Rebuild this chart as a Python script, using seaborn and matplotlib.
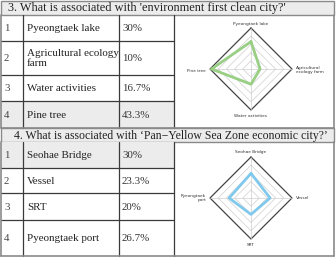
import matplotlib
matplotlib.use("Agg")
import matplotlib.pyplot as plt
import numpy as np
import pandas as pd
import seaborn as sns
from matplotlib.patches import Rectangle

sns.set_style("white")
plt.rcParams['font.family'] = ['Liberation Serif', 'DejaVu Serif']

# ---- data ----
title1 = "3. What is associated with 'environment first clean city?'"
nums1 = ["1", "2", "3", "4"]
cats1 = ["Pyeongtaek lake", "Agricultural ecology\nfarm", "Water activities", "Pine tree"]
vals1 = [30, 10, 16.7, 43.3]
pct1 = ["30%", "10%", "16.7%", "43.3%"]
radar_labels1 = ["Pyeongtaek lake", "Agricultural\necology farm", "Water activities", "Pine tree"]

title2 = "4. What is associated with \u2018Pan\u2212Yellow Sea Zone economic city?\u2019"
nums2 = ["1", "2", "3", "4"]
cats2 = ["Seohae Bridge", "Vessel", "SRT", "Pyeongtaek port"]
vals2 = [30, 23.3, 20, 26.7]
pct2 = ["30%", "23.3%", "20%", "26.7%"]
radar_labels2 = ["Seohae Bridge", "Vessel", "SRT", "Pyeongtaek\nport"]

W, H = 336, 258
fig = plt.figure(figsize=(W / 100, H / 100), dpi=100)
bg = fig.add_axes([0, 0, 1, 1])
bg.set_xlim(0, W)
bg.set_ylim(H, 0)
bg.axis("off")

cols = [1, 23, 119, 174, 334]
line_c = "#3a3a3a"
grey_fill = "#ececec"
fs_lab = 7.9
fs_num = 7.8


def draw_table(y_title, rows_y, title, nums, cats, pcts, shaded_row, title_x, fs_title):
    # title band
    bg.add_patch(Rectangle((1, y_title), 333, rows_y[0] - y_title, facecolor=grey_fill,
                           edgecolor="#8a8a8a", lw=1.0))
    bg.text(title_x, (y_title + rows_y[0]) / 2 + 0.5, title, fontsize=fs_title, va="center",
            ha="left", color="#222222")
    # shaded row
    r = shaded_row
    bg.add_patch(Rectangle((cols[0], rows_y[r]), cols[3] - cols[0], rows_y[r + 1] - rows_y[r],
                           facecolor=grey_fill, edgecolor="none"))
    # horizontal lines (table cells)
    for y in rows_y[1:-1]:
        bg.plot([cols[0], cols[3]], [y, y], color=line_c, lw=0.9)
    # vertical lines
    for x in cols[1:4]:
        bg.plot([x, x], [rows_y[0], rows_y[-1]], color=line_c, lw=0.9)
    # outer borders
    bg.plot([cols[0], cols[0]], [rows_y[0], rows_y[-1]], color="#8a8a8a", lw=1.2)
    bg.plot([cols[4], cols[4]], [rows_y[0], rows_y[-1]], color="#8a8a8a", lw=1.2)
    bg.plot([cols[0], cols[4]], [rows_y[-1], rows_y[-1]], color="#8a8a8a", lw=1.2)
    # text
    for i in range(4):
        yc = (rows_y[i] + rows_y[i + 1]) / 2 + 0.5
        bg.text(4, yc, nums[i], fontsize=fs_num, va="center", ha="left", color="#444444")
        bg.text(27, yc, cats[i], fontsize=fs_lab, va="center", ha="left", color="#222222",
                linespacing=1.1)
        bg.text(122, yc, pcts[i], fontsize=fs_num, va="center", ha="left", color="#333333")


draw_table(1, [15, 41, 75, 101, 128], title1, nums1, cats1, pct1, 3, 8, 8.8)
draw_table(128, [142, 168, 193, 220, 256], title2, nums2, cats2, pct2, 0, 14, 8.5)


def radar(cx, cy, rad, vals, labels, color, rmax, label_pos):
    ax = fig.add_axes([(cx - rad) / W, 1 - (cy + rad) / H, 2 * rad / W, 2 * rad / H],
                      projection="polar")
    ax.set_theta_offset(np.pi / 2)
    ax.set_theta_direction(-1)
    ax.set_ylim(0, rmax)
    ax.grid(False)
    ax.spines["polar"].set_visible(False)
    ax.set_xticks([])
    ax.set_yticks([])
    ax.patch.set_alpha(0)
    th = np.arange(4) * np.pi / 2
    thc = np.append(th, 2 * np.pi)
    levels = np.linspace(rmax / 5, rmax, 5)
    for lv in levels[:-1]:
        ax.plot(thc, [lv] * 5, color="#cfcfcf", lw=0.5)
    ax.plot(thc, [rmax] * 5, color="#444444", lw=0.9, clip_on=False)
    for t in th:
        ax.plot([t, t], [0, rmax], color="#cfcfcf", lw=0.5)
    df = pd.DataFrame({"theta": thc, "value": np.append(vals, vals[0])})
    sns.lineplot(data=df, x="theta", y="value", sort=False, estimator=None, ax=ax,
                 color=color, lw=2.0)
    ax.set_xlabel("")
    ax.set_ylabel("")
    for lab, (x, y, ha) in zip(labels, label_pos):
        bg.text(x, y, lab, fontsize=3.1, ha=ha, va="center", color="#333333",
                family="DejaVu Sans", linespacing=1.0)


radar(251, 69, 41, vals1, radar_labels1, "#98cf84", 45,
      [(251, 24, "center"), (296, 70, "left"), (251, 116, "center"), (206, 71, "right")])
radar(251, 198, 41, vals2, radar_labels2, "#80c8ec", 50,
      [(251, 152, "center"), (296, 198, "left"), (251, 245, "center"), (206, 198, "right")])

fig.savefig("out.png", dpi=100)
